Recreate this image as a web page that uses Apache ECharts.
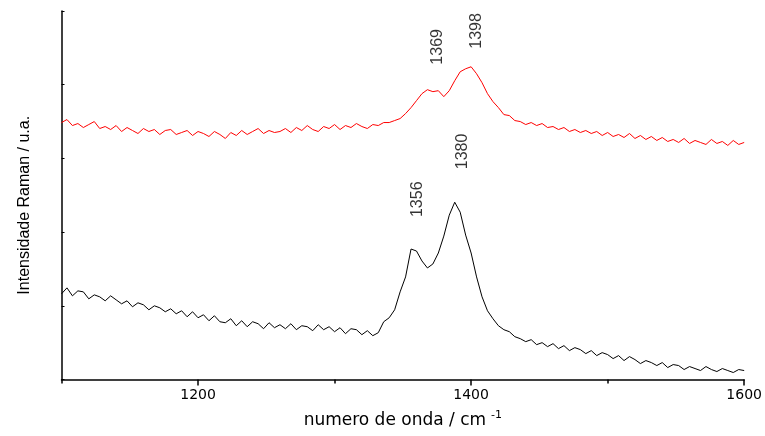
<!DOCTYPE html>
<html>
<head>
<meta charset="utf-8">
<script src="https://cdn.jsdelivr.net/npm/echarts@6/dist/echarts.min.js"></script>
<style>
html,body{margin:0;padding:0;background:#fff;}
#chart{width:765px;height:436px;}
</style>
</head>
<body>
<div id="chart"></div>
<script>
// Raman shift (cm-1)
const wavenumber = [1100,1104,1108,1112,1116,1120,1124,1128,1132,1136,
1140,1144,1148,1152,1156,1160,1164,1168,1172,1176,
1180,1184,1188,1192,1196,1200,1204,1208,1212,1216,
1220,1224,1228,1232,1236,1240,1244,1248,1252,1256,
1260,1264,1268,1272,1276,1280,1284,1288,1292,1296,
1300,1304,1308,1312,1316,1320,1324,1328,1332,1336,
1340,1344,1348,1352,1356,1360,1364,1368,1372,1376,
1380,1384,1388,1392,1396,1400,1404,1408,1412,1416,
1420,1424,1428,1432,1436,1440,1444,1448,1452,1456,
1460,1464,1468,1472,1476,1480,1484,1488,1492,1496,
1500,1504,1508,1512,1516,1520,1524,1528,1532,1536,
1540,1544,1548,1552,1556,1560,1564,1568,1572,1576,
1580,1584,1588,1592,1596,1600];

// lower (black) spectrum, arbitrary units
const blackSpectrum = [86,92,84,89,88,81,85,83,79,84,
80,76,79,73,77,75,70,74,72,68,
71,66,69,63,68,62,65,59,64,58,
57,61,54,59,53,58,56,51,57,52,
55,51,56,50,54,53,49,55,50,53,
48,52,46,51,50,45,49,44,47,58,
62,70,88,103,131,129,119,112,116,127,
144,165,178,168,145,127,103,83,69,61,
54,50,48,43,41,38,40,35,37,33,
36,31,34,29,32,30,26,29,24,27,
25,21,24,19,23,20,16,19,17,14,
17,12,15,14,10,13,11,9,13,10,
8,11,9,7,10,9];

// upper (red) spectrum, arbitrary units (offset)
const redSpectrum = [258,261,255,257,253,256,259,252,254,251,
255,249,253,250,247,252,249,251,246,250,
251,246,248,250,245,249,247,244,249,246,
242,248,245,250,246,249,252,247,250,248,
249,252,248,253,250,255,251,249,254,252,
256,251,255,253,257,254,252,256,255,258,
258,260,262,267,273,280,287,291,289,290,
284,290,300,309,312,314,307,298,287,279,
273,266,265,260,259,256,258,255,257,253,
254,251,253,249,251,248,250,247,249,245,
248,244,246,243,247,242,245,241,244,240,
243,239,241,238,242,237,240,238,236,241,
237,239,235,240,236,238];

const peakLabels = ['1356','1380','1369','1398'];
const peakLabelX = [1360.5,1393.4,1375.1,1404.3];
const peakLabelY = [181,229,334,350];

const xTickLabels = [1200,1400,1600];
const xMinorTicks = [1100,1300,1500];
const yTicks = [0,74,148,222,296,370];

const chart = echarts.init(document.getElementById('chart'), null, {renderer:'canvas'});

const option = {
  animation: false,
  backgroundColor: '#fff',
  grid: {left: 61.5, right: 19, top: 11, bottom: 55, containLabel: false},
  xAxis: [{
    type: 'value', min: 1100, max: 1600, interval: 100,
    axisLine: {lineStyle: {color: '#000', width: 1.5}},
    axisTick: {customValues: xTickLabels, length: 6, lineStyle: {color: '#000', width: 1.5}},
    axisLabel: {customValues: xTickLabels, formatter: v => String(v), color: '#000', fontFamily: 'DejaVu Sans', fontSize: 14, margin: 9},
    splitLine: {show: false},
    name: '{a|numero de onda / cm}{s|-1}',
    nameLocation: 'middle', nameGap: 31,
    nameTextStyle: {
      rich: {
        a: {fontFamily: 'DejaVu Sans', fontSize: 17, color: '#000', lineHeight: 20},
        s: {fontFamily: 'DejaVu Sans', fontSize: 11, color: '#000', padding: [0,0,10,5], lineHeight: 20}
      }
    }
  }, {
    type: 'value', min: 1100, max: 1600, interval: 100, position: 'bottom',
    axisLine: {show: false},
    axisTick: {customValues: xMinorTicks, length: 4, lineStyle: {color: '#000', width: 1.5}},
    axisLabel: {show: false},
    splitLine: {show: false}
  }],
  yAxis: {
    type: 'value', min: 0, max: 370, interval: 74,
    axisLine: {show: true, lineStyle: {color: '#000', width: 1.5}},
    axisTick: {show: true, inside: true, length: 3, customValues: yTicks, lineStyle: {color: '#000', width: 1}},
    axisLabel: {show: false},
    splitLine: {show: false},
    name: 'Intensidade Raman / u.a.',
    nameLocation: 'middle', nameGap: 29,
    nameTextStyle: {fontFamily: 'Liberation Sans', fontSize: 16, color: '#000', padding: [0, 20, 0, 0]}
  },
  series: [{
    type: 'line', xAxisIndex: 0,
    data: wavenumber.map((w, i) => [w, blackSpectrum[i]]),
    showSymbol: false, symbol: 'none',
    lineStyle: {color: '#000', width: 1}
  }, {
    type: 'line', xAxisIndex: 0,
    data: wavenumber.map((w, i) => [w, redSpectrum[i]]),
    showSymbol: false, symbol: 'none',
    lineStyle: {color: '#ff0000', width: 1}
  }, {
    type: 'scatter', xAxisIndex: 0, silent: true,
    symbolSize: 0,
    data: peakLabels.map((t, i) => ({name: t, value: [peakLabelX[i], peakLabelY[i]]})),
    label: {
      show: true, position: 'inside', formatter: '{b}', rotate: 90,
      fontFamily: 'Liberation Sans', fontSize: 16, color: '#000',
      align: 'center', verticalAlign: 'middle'
    }
  }]
};
chart.setOption(option);
</script>
</body>
</html>
